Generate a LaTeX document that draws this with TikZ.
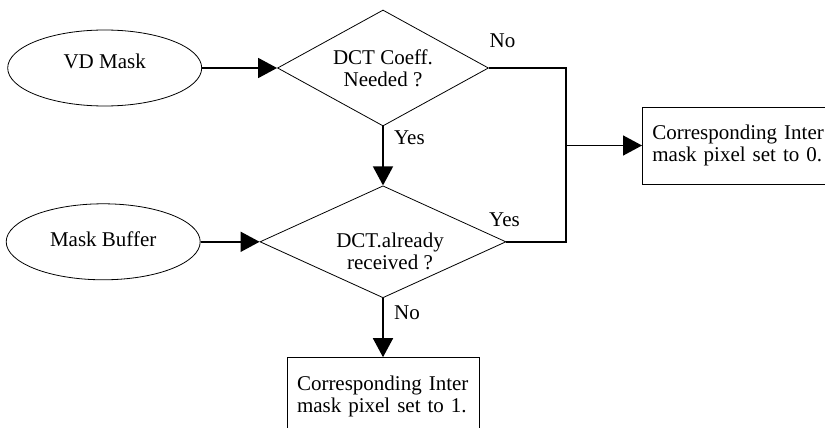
\documentclass[tikz,border=0pt]{standalone}
\usepackage{fontspec}
\setmainfont{Liberation Serif}
\usetikzlibrary{shapes.geometric,arrows.meta,positioning,calc}

\begin{document}
\begin{tikzpicture}[
        x=1pt,y=1pt,
        font=\fontsize{21}{22}\selectfont,
        source/.style={draw,ellipse,line width=0.8pt,inner sep=0pt,
                       minimum width=194pt,minimum height=76pt},
        decision/.style={draw,diamond,aspect=1.8,line width=0.8pt,
                         inner sep=0pt,align=center},
        outbox/.style={draw,rectangle,line width=0.8pt,inner sep=10pt,
                       minimum height=77pt,text width=172pt,align=left},
        tag/.style={anchor=west,xshift=7pt},
        arr/.style={-{Triangle[length=19pt,width=20pt]},line width=1.6pt},
        link/.style={line width=1.6pt}]
        \useasboundingbox (0,0) rectangle (825,-428);
        \node[decision,minimum width=211pt,minimum height=116pt] (coef) at (383,-68) {DCT Coeff.\\Needed ?};
        \node[decision,minimum width=246pt,minimum height=112pt,below=59pt of coef,
              label={[align=center,xshift=7pt,yshift=-10pt]center:DCT.already\\received ?}] (recv) {};
        \node[source,left=75pt of coef,label={[yshift=7pt]center:VD Mask}] (vd) {};
        \node[source,left=59pt of recv,label={[yshift=3pt]center:Mask Buffer}] (buf) {};
        \node[outbox,anchor=west] (set0) at (642,-145.5) {Corresponding Inter\\mask pixel set to 0.};
        \node[outbox,below=59pt of recv] (set1) {Corresponding Inter\\mask pixel set to 1.};
        \coordinate (merge) at ($(set0.west)+(-76,0)$);
        \draw[arr] (vd)--(coef);
        \draw[arr] (buf)--(recv);
        \draw[arr] (coef)--node[tag,pos=0.19]{Yes} (recv);
        \draw[arr] (recv)--node[tag,pos=0.25]{No} (set1);
        \draw[link] (coef.east) node[anchor=south west,inner sep=0pt,yshift=19pt]{No} -| (merge);
        \draw[link] (recv.east) node[anchor=south west,inner sep=0pt,xshift=-18pt,yshift=14pt]{Yes} -| (merge);
        \draw[arr] (merge)--(set0);
      \end{tikzpicture}
\end{document}
